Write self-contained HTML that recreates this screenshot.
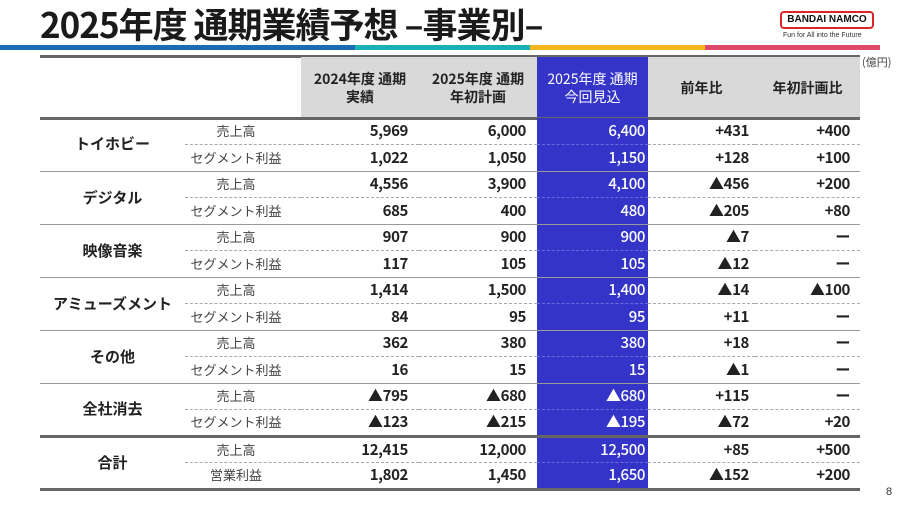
<!DOCTYPE html>
<html><head><meta charset="utf-8"><style>
*{margin:0;padding:0;box-sizing:border-box}
body{width:900px;height:506px;background:#fff;position:relative;overflow:hidden;font-family:"Liberation Sans","Noto Sans CJK JP",sans-serif;color:#222}
.title{position:absolute;left:40px;top:2px;font-size:35px;font-weight:bold;font-family:"Noto Sans CJK JP",sans-serif;letter-spacing:-1px;line-height:44px;color:#1a1a1a}
.band{position:absolute;top:45px;height:5px}
.logo{position:absolute;left:780px;top:11px;width:94px;height:18px;border:2px solid #d9262d;border-radius:4px;font:bold 10px "Liberation Sans",sans-serif;text-align:center;line-height:14px;color:#111}
.tag{position:absolute;left:783px;top:32px;font-size:7px;color:#333;font-family:"Liberation Sans",sans-serif}
.hdr{position:absolute;top:57px;height:61px;display:flex;align-items:center;justify-content:center;text-align:center;font-family:"Noto Sans CJK JP",sans-serif;font-weight:bold;font-size:14px;line-height:18px;color:#222}
table{position:absolute;left:40px;top:118px;border-collapse:collapse;font-family:"Noto Sans CJK JP",sans-serif;table-layout:fixed}
td{height:26.5px;padding:0;font-size:15px;line-height:20px}
td.g{font-weight:bold;text-align:center;font-size:15px;border-bottom:1.5px solid #999}
td.s{text-align:center;font-size:13px;color:#444;padding-right:14px}
td.n{text-align:right;font-weight:bold;letter-spacing:-0.4px}
td.c1{padding-right:11px}td.c2{padding-right:11px}td.c3{padding-right:3px;background:#3434c8;color:#fff;font-weight:500}td.c4{padding-right:6px}td.c5{padding-right:10px}
tr.a td:not(.g){border-bottom:1px dashed #aaa}
tr.a td.c3{border-bottom:1px dashed #6a6ad8}
tr.b td{border-bottom:1.5px solid #999}
tr.last td{border-bottom:3px solid #666}
</style></head><body>
<div class="title">2025年度 通期業績予想 –事業別–</div>
<div class="band" style="left:0;width:355px;background:#1a6db5"></div>
<div class="band" style="left:355px;width:175px;background:#1ab0b8"></div>
<div class="band" style="left:530px;width:175px;background:#f3b61c"></div>
<div class="band" style="left:705px;width:175px;background:#e04a6a"></div>
<div class="logo">BANDAI NAMCO</div>
<div class="tag">Fun for All into the Future</div>
<div style="position:absolute;left:40px;top:55px;width:820px;height:2.5px;background:#666"></div>
<div class="hdr" style="left:301px;width:236px;background:#d9d9d9"></div>
<div class="hdr" style="left:301px;width:118px">2024年度 通期<br>実績</div>
<div class="hdr" style="left:419px;width:118px">2025年度 通期<br>年初計画</div>
<div class="hdr" style="left:537px;width:111px;background:#3434c8;color:#fff;font-weight:normal">2025年度 通期<br>今回見込</div>
<div class="hdr" style="left:648px;width:212px;background:#d9d9d9"></div>
<div class="hdr" style="left:648px;width:107px">前年比</div>
<div class="hdr" style="left:755px;width:105px">年初計画比</div>
<div style="position:absolute;left:40px;top:117px;width:820px;height:2.5px;background:#666"></div>
<div style="position:absolute;left:862px;top:54px;font-size:11px;color:#444;font-family:'Noto Sans CJK JP',sans-serif">(億円)</div>
<table>
<colgroup><col style="width:145px"><col style="width:116px"><col style="width:118px"><col style="width:118px"><col style="width:111px"><col style="width:107px"><col style="width:105px"></colgroup>
<tr class="a"><td class="g" rowspan="2">トイホビー</td><td class="s">売上高</td><td class="n c1">5,969</td><td class="n c2">6,000</td><td class="n c3">6,400</td><td class="n c4">+431</td><td class="n c5">+400</td></tr>
<tr class="b"><td class="s">セグメント利益</td><td class="n c1">1,022</td><td class="n c2">1,050</td><td class="n c3">1,150</td><td class="n c4">+128</td><td class="n c5">+100</td></tr>
<tr class="a"><td class="g" rowspan="2">デジタル</td><td class="s">売上高</td><td class="n c1">4,556</td><td class="n c2">3,900</td><td class="n c3">4,100</td><td class="n c4">▲456</td><td class="n c5">+200</td></tr>
<tr class="b"><td class="s">セグメント利益</td><td class="n c1">685</td><td class="n c2">400</td><td class="n c3">480</td><td class="n c4">▲205</td><td class="n c5">+80</td></tr>
<tr class="a"><td class="g" rowspan="2">映像音楽</td><td class="s">売上高</td><td class="n c1">907</td><td class="n c2">900</td><td class="n c3">900</td><td class="n c4">▲7</td><td class="n c5">ー</td></tr>
<tr class="b"><td class="s">セグメント利益</td><td class="n c1">117</td><td class="n c2">105</td><td class="n c3">105</td><td class="n c4">▲12</td><td class="n c5">ー</td></tr>
<tr class="a"><td class="g" rowspan="2">アミューズメント</td><td class="s">売上高</td><td class="n c1">1,414</td><td class="n c2">1,500</td><td class="n c3">1,400</td><td class="n c4">▲14</td><td class="n c5">▲100</td></tr>
<tr class="b"><td class="s">セグメント利益</td><td class="n c1">84</td><td class="n c2">95</td><td class="n c3">95</td><td class="n c4">+11</td><td class="n c5">ー</td></tr>
<tr class="a"><td class="g" rowspan="2">その他</td><td class="s">売上高</td><td class="n c1">362</td><td class="n c2">380</td><td class="n c3">380</td><td class="n c4">+18</td><td class="n c5">ー</td></tr>
<tr class="b"><td class="s">セグメント利益</td><td class="n c1">16</td><td class="n c2">15</td><td class="n c3">15</td><td class="n c4">▲1</td><td class="n c5">ー</td></tr>
<tr class="a"><td class="g" rowspan="2" style="border-bottom:3px solid #666">全社消去</td><td class="s">売上高</td><td class="n c1">▲795</td><td class="n c2">▲680</td><td class="n c3">▲680</td><td class="n c4">+115</td><td class="n c5">ー</td></tr>
<tr class="last"><td class="s">セグメント利益</td><td class="n c1">▲123</td><td class="n c2">▲215</td><td class="n c3">▲195</td><td class="n c4">▲72</td><td class="n c5">+20</td></tr>
<tr class="a"><td class="g" rowspan="2" style="border-bottom:3px solid #666">合計</td><td class="s">売上高</td><td class="n c1">12,415</td><td class="n c2">12,000</td><td class="n c3">12,500</td><td class="n c4">+85</td><td class="n c5">+500</td></tr>
<tr class="last"><td class="s">営業利益</td><td class="n c1">1,802</td><td class="n c2">1,450</td><td class="n c3">1,650</td><td class="n c4">▲152</td><td class="n c5">+200</td></tr>
</table>
<div style="position:absolute;left:886px;top:486px;font-size:11px;color:#333">8</div>
</body></html>
